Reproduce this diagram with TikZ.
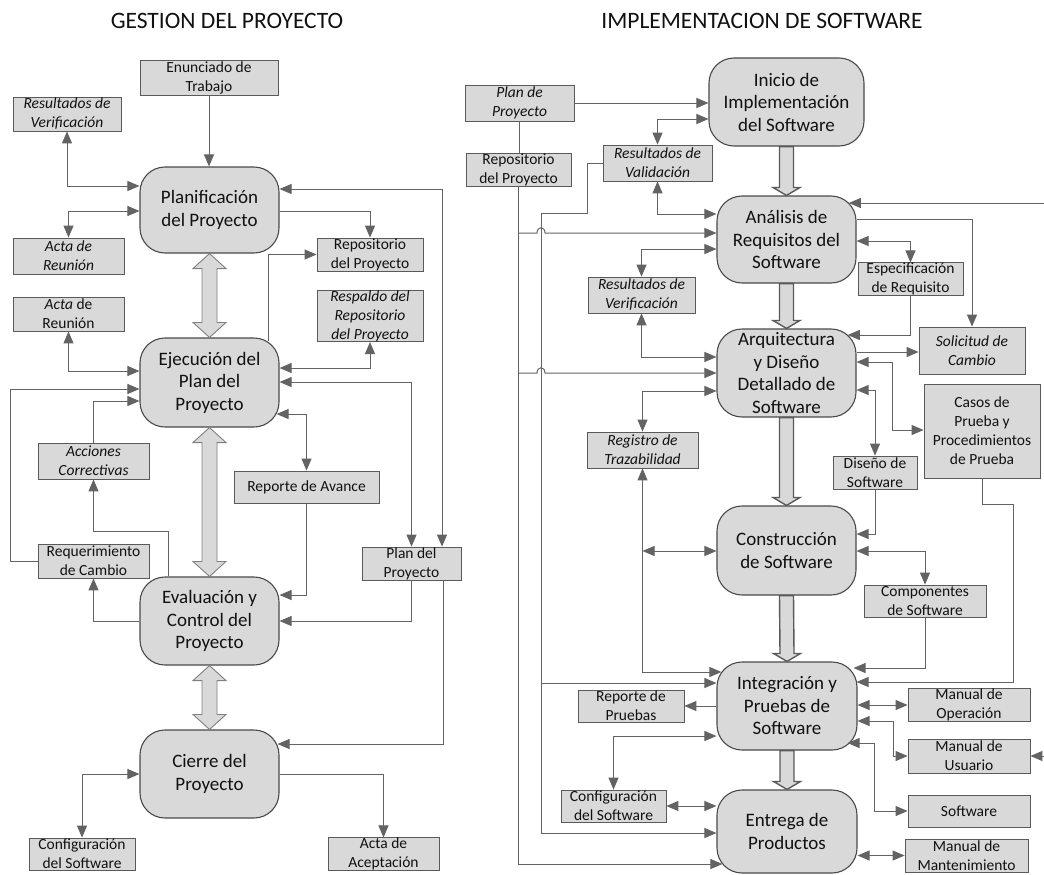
\documentclass[tikz,border=0pt]{standalone}
\usepackage{fontspec}
\setmainfont{Carlito}
\usetikzlibrary{arrows.meta,calc}
\definecolor{boxfill}{HTML}{D9D9D9}
\definecolor{boxline}{HTML}{5A5A5A}
\definecolor{procline}{HTML}{4A4A4A}
\definecolor{lncol}{HTML}{636363}
\definecolor{blkline}{HTML}{808080}
\definecolor{txt}{HTML}{111111}
\newcommand\bxfont{\fontsize{15.5}{19}\selectfont}
\newcommand\prfont{\fontsize{19}{22.5}\selectfont}
\newcommand\ttlfont{\fontsize{23.5}{26}\selectfont}

% two-headed hollow block arrow between two stacked processes
\newcommand\twoway[2]{\draw[blk] (#1.south) -- ($(#1.south)+(16.5,15)$) -- ($(#1.south)+(7.5,15)$) -- ($(#2.north)+(7.5,-15)$) -- ($(#2.north)+(16.5,-15)$) -- (#2.north) -- ($(#2.north)+(-16.5,-15)$) -- ($(#2.north)+(-7.5,-15)$) -- ($(#1.south)+(-7.5,15)$) -- ($(#1.south)+(-16.5,15)$) -- cycle;}
% one-way block arrow between two stacked processes
\newcommand\oneway[2]{\draw[blk2] ($(#1.south)+(-7,0)$) -- ($(#1.south)+(7,0)$) -- ($(#2.north)+(7,-8)$) -- ($(#2.north)+(13.5,-8)$) -- (#2.north) -- ($(#2.north)+(-13.5,-8)$) -- ($(#2.north)+(-7,-8)$) -- cycle;}

\begin{document}
\begin{tikzpicture}[x=1pt,y=-1pt,
  box/.style={draw=boxline, fill=boxfill, line width=0.8pt, inner sep=0pt, align=center, font=\bxfont, text=txt},
  ibox/.style={box, font=\bxfont\itshape},
  proc/.style={draw=procline, fill=boxfill, line width=1.1pt, rounded corners=25pt, inner sep=0pt, align=center, font=\prfont, text=txt},
  title/.style={font=\ttlfont, text=txt, inner sep=0pt},
  conn/.style={draw=lncol, line width=1pt},
  arr/.style={conn, -{Triangle[length=12pt,width=10pt]}},
  darr/.style={conn, {Triangle[length=12pt,width=10pt]}-{Triangle[length=12pt,width=10pt]}},
  blk/.style={draw=blkline, fill=boxfill, line width=0.9pt, line join=miter},
  blk2/.style={draw=boxline, fill=boxfill, line width=1.4pt, line join=miter}]
\useasboundingbox (0,0) rectangle (1044,875);
\fill[white] (0,0) rectangle (1044,875);
\clip (0,0) rectangle (1044,875);

% ---------- titles ----------
\node[title] (tL) at (227,21) {GESTION DEL PROYECTO};
\node[title] (tR) at (762,21) {IMPLEMENTACION DE SOFTWARE};

% ---------- project management ----------
\node[box,  minimum width=138pt, minimum height=35pt] (enun)  at (209,77.5)  {Enunciado de\\Trabajo};
\node[ibox, minimum width=108pt, minimum height=34pt] (rvL)   at (67,114)    {Resultados de\\Verificación};
\node[proc, minimum width=139pt, minimum height=86pt] (pl)    at (209.5,210) {Planificación\\del Proyecto};
\node[ibox, minimum width=111pt, minimum height=36pt] (acta1) at (68.5,256)  {Acta de\\Reunión};
\node[box,  minimum width=111pt, minimum height=34pt] (acta2) at (68.5,314)  {\textit{Acta} de\\Reunión};
\node[box,  minimum width=106pt, minimum height=33pt] (repoL) at (370,254.5) {Repositorio\\del Proyecto};
\node[ibox, minimum width=106pt, minimum height=48pt] (resp)  at (370,316)   {Respaldo del\\Repositorio\\del Proyecto};
\node[proc, minimum width=139pt, minimum height=89pt] (ej)    at (209.5,382.5) {Ejecución del\\Plan del\\Proyecto};
\node[ibox, minimum width=111pt, minimum height=36pt] (acc)   at (93.5,461)  {Acciones\\Correctivas};
\node[box,  minimum width=145pt, minimum height=32pt] (rep)   at (306.5,487) {Reporte de Avance};
\node[box,  minimum width=111pt, minimum height=34pt] (req)   at (93.5,561)  {Requerimiento\\de Cambio};
\node[box,  minimum width=99pt,  minimum height=33pt] (planP) at (411.5,563.5) {Plan del\\Proyecto};
\node[proc, minimum width=139pt, minimum height=88pt] (ev)    at (209.5,621) {Evaluación y\\Control del\\Proyecto};
\node[proc, minimum width=139pt, minimum height=88pt] (ci)    at (209.5,774) {Cierre del\\Proyecto};
\node[box,  minimum width=106pt, minimum height=32pt] (confL) at (82,854)    {Configuración\\del Software};
\node[box,  minimum width=111pt, minimum height=32pt] (acep)  at (383.5,854) {Acta de\\Aceptación};

\twoway{pl}{ej}
\twoway{ej}{ev}
\twoway{ev}{ci}

\draw[arr]  (enun.south) -- (enun.south |- pl.north);
\draw[darr] (rvL.south) |- (pl.west |- 0,186);
\draw[darr] (acta1.north) |- (pl.west |- 0,211);
\draw[darr] (pl.east |- 0,189) -| ($(planP.north)+(30.5,0)$);
\draw[arr]  (pl.east |- 0,211) -| (repoL.north);
\draw[arr]  ($(ej.north)+(58.5,4)$) |- (repoL.west);
\draw[darr] (ej.east |- 0,368) -| (resp.south);
\draw[darr] (ej.east |- 0,382) -| (planP.north);
\draw[darr] ($(ej.east |- 0,414)+(-3,0)$) -| (rep.north);
\draw[arr]  (rep.south) |- (ev.east |- 0,595);
\draw[arr]  (planP.south) |- (ev.east |- 0,621);
\draw[arr]  ($(planP.south)+(31.5,0)$) |- ($(ci.east |- 0,744)+(-2,0)$);
\draw[darr] (acta2.south) |- (ej.west |- 0,371);
\draw[arr]  (req.west) -- ++(-27,0) |- (ej.west |- 0,389);
\draw[arr]  (acc.north) |- (ej.west |- 0,401);
\draw[arr]  ($(ev.north)+(-41.5,0)$) -- ++(0,-45) -| (acc.south);
\draw[arr]  (ev.west |- 0,621) -| (req.south);
\draw[darr] (ci.west |- 0,774) -| (confL.north);
\draw[arr]  (ci.east |- 0,774) -| (acep.north);

% ---------- software implementation ----------
\node[ibox, minimum width=109pt, minimum height=36pt] (planR) at (519.5,103) {Plan de\\Proyecto};
\node[box,  minimum width=105pt, minimum height=33pt] (repoR) at (518.5,169.5) {Repositorio\\del Proyecto};
\node[proc, minimum width=155pt, minimum height=88pt] (ini)   at (786.5,102) {Inicio de\\Implementación\\del Software};
\node[ibox, minimum width=109pt, minimum height=36pt] (rval)  at (657.5,163) {Resultados de\\Validación};
\node[proc, minimum width=139pt, minimum height=87pt] (an)    at (786.5,239.5) {Análisis de\\Requisitos del\\Software};
\node[box,  minimum width=105pt, minimum height=32pt] (esp)   at (910.5,279) {Especificación\\de Requisito};
\node[ibox, minimum width=107pt, minimum height=36pt] (rverR) at (641.5,295) {Resultados de\\Verificación};
\node[proc, minimum width=139pt, minimum height=88pt] (arq)   at (786.5,373) {Arquitectura\\y Diseño\\Detallado de\\Software};
\node[ibox, minimum width=106pt, minimum height=47pt] (sol)   at (972,350.5) {Solicitud de\\Cambio};
\node[box,  minimum width=116pt, minimum height=94pt] (casos) at (982,431)   {Casos de\\Prueba y\\Procedimientos\\de Prueba};
\node[ibox, minimum width=111pt, minimum height=36pt] (reg)   at (642.5,450) {Registro de\\Trazabilidad};
\node[box,  minimum width=84pt,  minimum height=33pt] (dis)   at (875,472.5) {Diseño de\\Software};
\node[proc, minimum width=139pt, minimum height=89pt] (con)   at (786.5,550.5) {Construcción\\de Software};
\node[box,  minimum width=122pt, minimum height=32pt] (comp)  at (925,601)   {Componentes\\de Software};
\node[proc, minimum width=140pt, minimum height=88pt] (int)   at (787,706)   {Integración y\\Pruebas de\\Software};
\node[box,  minimum width=106pt, minimum height=32pt] (repP)  at (631,706)   {Reporte de\\Pruebas};
\node[box,  minimum width=122pt, minimum height=32pt] (mop)   at (969,705)   {Manual de\\Operación};
\node[box,  minimum width=122pt, minimum height=34pt] (mus)   at (969,756)   {Manual de\\Usuario};
\node[box,  minimum width=122pt, minimum height=32pt] (sw)    at (969,811)   {Software};
\node[box,  minimum width=105pt, minimum height=32pt] (confR) at (613.5,806) {Configuración\\del Software};
\node[proc, minimum width=140pt, minimum height=83pt] (ent)   at (787,831.5) {Entrega de\\Productos};
\node[box,  minimum width=123pt, minimum height=33pt] (mman)  at (966.5,855.5) {Manual de\\Mantenimiento};

\oneway{ini}{an}
\oneway{an}{arq}
\oneway{arq}{con}
\oneway{con}{int}
\oneway{int}{ent}

% shared vertical runs on the left
\coordinate (busV) at (541,213);
\coordinate (edgeR) at (1052,203);

\draw[arr]  (planR.east) -- (ini.west |- planR.east);
\draw[conn] (planR.south) -- (planR.south |- repoR.north);
\draw[darr] (ini.west |- 0,119) -| (rval.north);
\draw[darr] (rval.south) |- (an.west |- 0,214);
\draw[conn] (rval.west) -- ++(-15,0) |- (busV);
\draw[arr]  (busV) |- (int.west |- 0,683);
\draw[arr]  (busV) |- (ent.west |- 0,833);
\draw[arr]  (repoR.south) |- ($(ent.west |- 0,864)+(6,0)$);
\draw[arr]  (repoR.south |- 0,233) -- (537,233) .. controls (537,226) and (545,226) .. (545,233) -- (an.west |- 0,233);
\draw[arr]  (repoR.south |- 0,373) -- (537,373) .. controls (537,366) and (545,366) .. (545,373) -- (arq.west |- 0,373);
\draw[darr] (an.west |- 0,249) -| (rverR.north);
\draw[darr] (rverR.south) |- (arq.west |- 0,357);
\draw[darr] (arq.west |- 0,391) -| (reg.north);
\draw[darr] (reg.south) |- ($(int.west |- 0,672)+(5,0)$);
\draw[darr] (reg.south |- 0,551) -- (con.west |- 0,551);

\draw[darr] ($(an.east |- 0,203)+(-7.7,0)$) -- (edgeR) |- (mus.east);
\draw[arr]  (an.east |- 0,219) -| (sol.north);
\draw[darr] (an.east |- 0,241) -| (esp.north);
\draw[arr]  (esp.south) |- ($(arq.east |- 0,335)+(-8.8,0)$);
\draw[arr]  (arq.east |- 0,352) -- (sol.west |- 0,352);
\draw[darr] (arq.east |- 0,362) -- ++(36,0) |- (casos.west |- 0,430);
\draw[darr] (arq.east |- 0,390) -| (dis.north);
\draw[arr]  (dis.south) |- (con.east |- 0,534);
\draw[darr] (con.east |- 0,551) -| (comp.north);
\draw[arr]  (comp.south) |- ($(int.east |- 0,668)+(-4,0)$);
\draw[arr]  (casos.south) -- ++(0,26) -- ++(31,0) |- ($(int.east |- 0,682)+(-1,0)$);
\draw[arr]  (int.west |- repP.east) -- (repP.east);
\draw[darr] (int.west |- 0,736) -| (confR.north);
\draw[darr] (confR.east) -- (ent.west |- confR.east);
\draw[darr] (int.east |- mop.west) -- (mop.west);
\draw[darr] (int.east |- 0,721) -- ++(36,0) |- (mus.west);
\draw[darr] ($(int.east |- 0,743)+(-10,0)$) -- (874,743) |- (sw.west);
\draw[darr] (ent.east |- mman.west) -- (mman.west);
\end{tikzpicture}
\end{document}
